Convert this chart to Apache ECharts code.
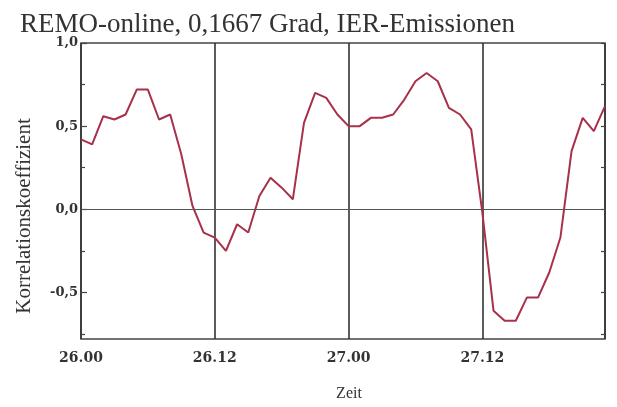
<!DOCTYPE html>
<html>
<head>
<meta charset="utf-8">
<title>REMO-online Korrelation</title>
<script src="https://cdn.jsdelivr.net/npm/echarts@6/dist/echarts.min.js"></script>
<style>
    html, body { margin: 0; padding: 0; background: #fff; }
    #chart { width: 617px; height: 407px; }
</style>
</head>
<body>
<div id="chart"></div>
<script>
// hours since 26.00
const hours = [0, 1, 2, 3, 4, 5, 6, 7, 8, 9, 10, 11, 12, 13, 14, 15, 16, 17, 18, 19, 20, 21, 22, 23,
    24, 25, 26, 27, 28, 29, 30, 31, 32, 33, 34, 35, 36, 37, 38, 39, 40, 41, 42, 43, 44, 45, 46, 47];
const korrelation = [0.42, 0.39, 0.56, 0.54, 0.57, 0.72, 0.72, 0.54, 0.57, 0.33, 0.02, -0.14,
    -0.17, -0.25, -0.09, -0.14, 0.08, 0.19, 0.13, 0.06, 0.52, 0.70, 0.67, 0.57,
    0.50, 0.50, 0.55, 0.55, 0.57, 0.66, 0.77, 0.82, 0.77, 0.61, 0.57, 0.48,
    -0.02, -0.61, -0.67, -0.67, -0.53, -0.53, -0.38, -0.17, 0.35, 0.55, 0.47, 0.62];
const xTickLabels = ['26.00', '26.12', '27.00', '27.12'];
const yLabelValues = [-0.5, 0, 0.5, 1.0];
const yMinorValues = [-0.75, -0.25, 0.25, 0.75];

document.addEventListener('DOMContentLoaded', () => {
    const chart = echarts.init(document.getElementById('chart'));
    const serif = 'Liberation Serif';
    const yMin = -0.78, yMax = 1.0;

    // extra y axes only carry the small tick marks
    function tickAxis(position, values, len) {
        return {
            type: 'value', min: yMin, max: yMax, position: position,
            axisLine: { show: false }, axisLabel: { show: false }, splitLine: { show: false },
            axisTick: { show: true, inside: true, length: len, customValues: values,
                lineStyle: { color: '#444', width: 1.2 } }
        };
    }

    chart.setOption({
        animation: false,
        title: {
            text: 'REMO-online, 0,1667 Grad, IER-Emissionen',
            left: 15, top: 6,
            textStyle: { fontFamily: serif, fontSize: 27, fontWeight: 'normal', color: '#333' }
        },
        grid: {
            left: 81, right: 12, top: 43, bottom: 55,
            show: true, borderColor: '#444', borderWidth: 1.5, backgroundColor: 'transparent'
        },
        xAxis: {
            type: 'value', min: 0, max: 47, interval: 12,
            name: 'Zeit', nameLocation: 'middle', nameGap: 47,
            nameTextStyle: { fontFamily: serif, fontSize: 16, color: '#333', padding: [0, 0, 0, 12] },
            axisLine: { show: false },
            axisTick: { show: false },
            axisLabel: {
                margin: 12, fontFamily: 'DejaVu Serif', fontWeight: 'bold', fontSize: 14, color: '#333',
                formatter: v => xTickLabels[v / 12] || ''
            },
            splitLine: { show: true, lineStyle: { color: '#333', width: 1.6 } }
        },
        yAxis: [
            {
                type: 'value', min: yMin, max: yMax, position: 'left',
                name: 'Korrelationskoeffizient', nameLocation: 'middle', nameGap: 46,
                nameTextStyle: { fontFamily: serif, fontSize: 21, color: '#333', padding: [0, 50, 0, 0] },
                axisLine: { show: false },
                axisTick: { show: true, inside: true, length: 6, customValues: yLabelValues,
                    lineStyle: { color: '#444', width: 1.2 } },
                axisLabel: {
                    customValues: yLabelValues, margin: 3,
                    fontFamily: 'DejaVu Serif', fontWeight: 'bold', fontSize: 13, color: '#333',
                    formatter: v => v.toFixed(1).replace('.', ',')
                },
                splitLine: { show: false }
            },
            tickAxis('left', yMinorValues, 4),
            tickAxis('right', yLabelValues.concat(yMinorValues), 4)
        ],
        series: [{
            type: 'line',
            data: hours.map((h, i) => [h, korrelation[i]]),
            showSymbol: false,
            lineStyle: { color: '#a8304a', width: 2 },
            markLine: {
                silent: true, symbol: 'none', label: { show: false },
                lineStyle: { color: '#555', width: 1, type: 'solid' },
                data: [{ yAxis: 0 }]
            }
        }]
    });
});
</script>
</body>
</html>
